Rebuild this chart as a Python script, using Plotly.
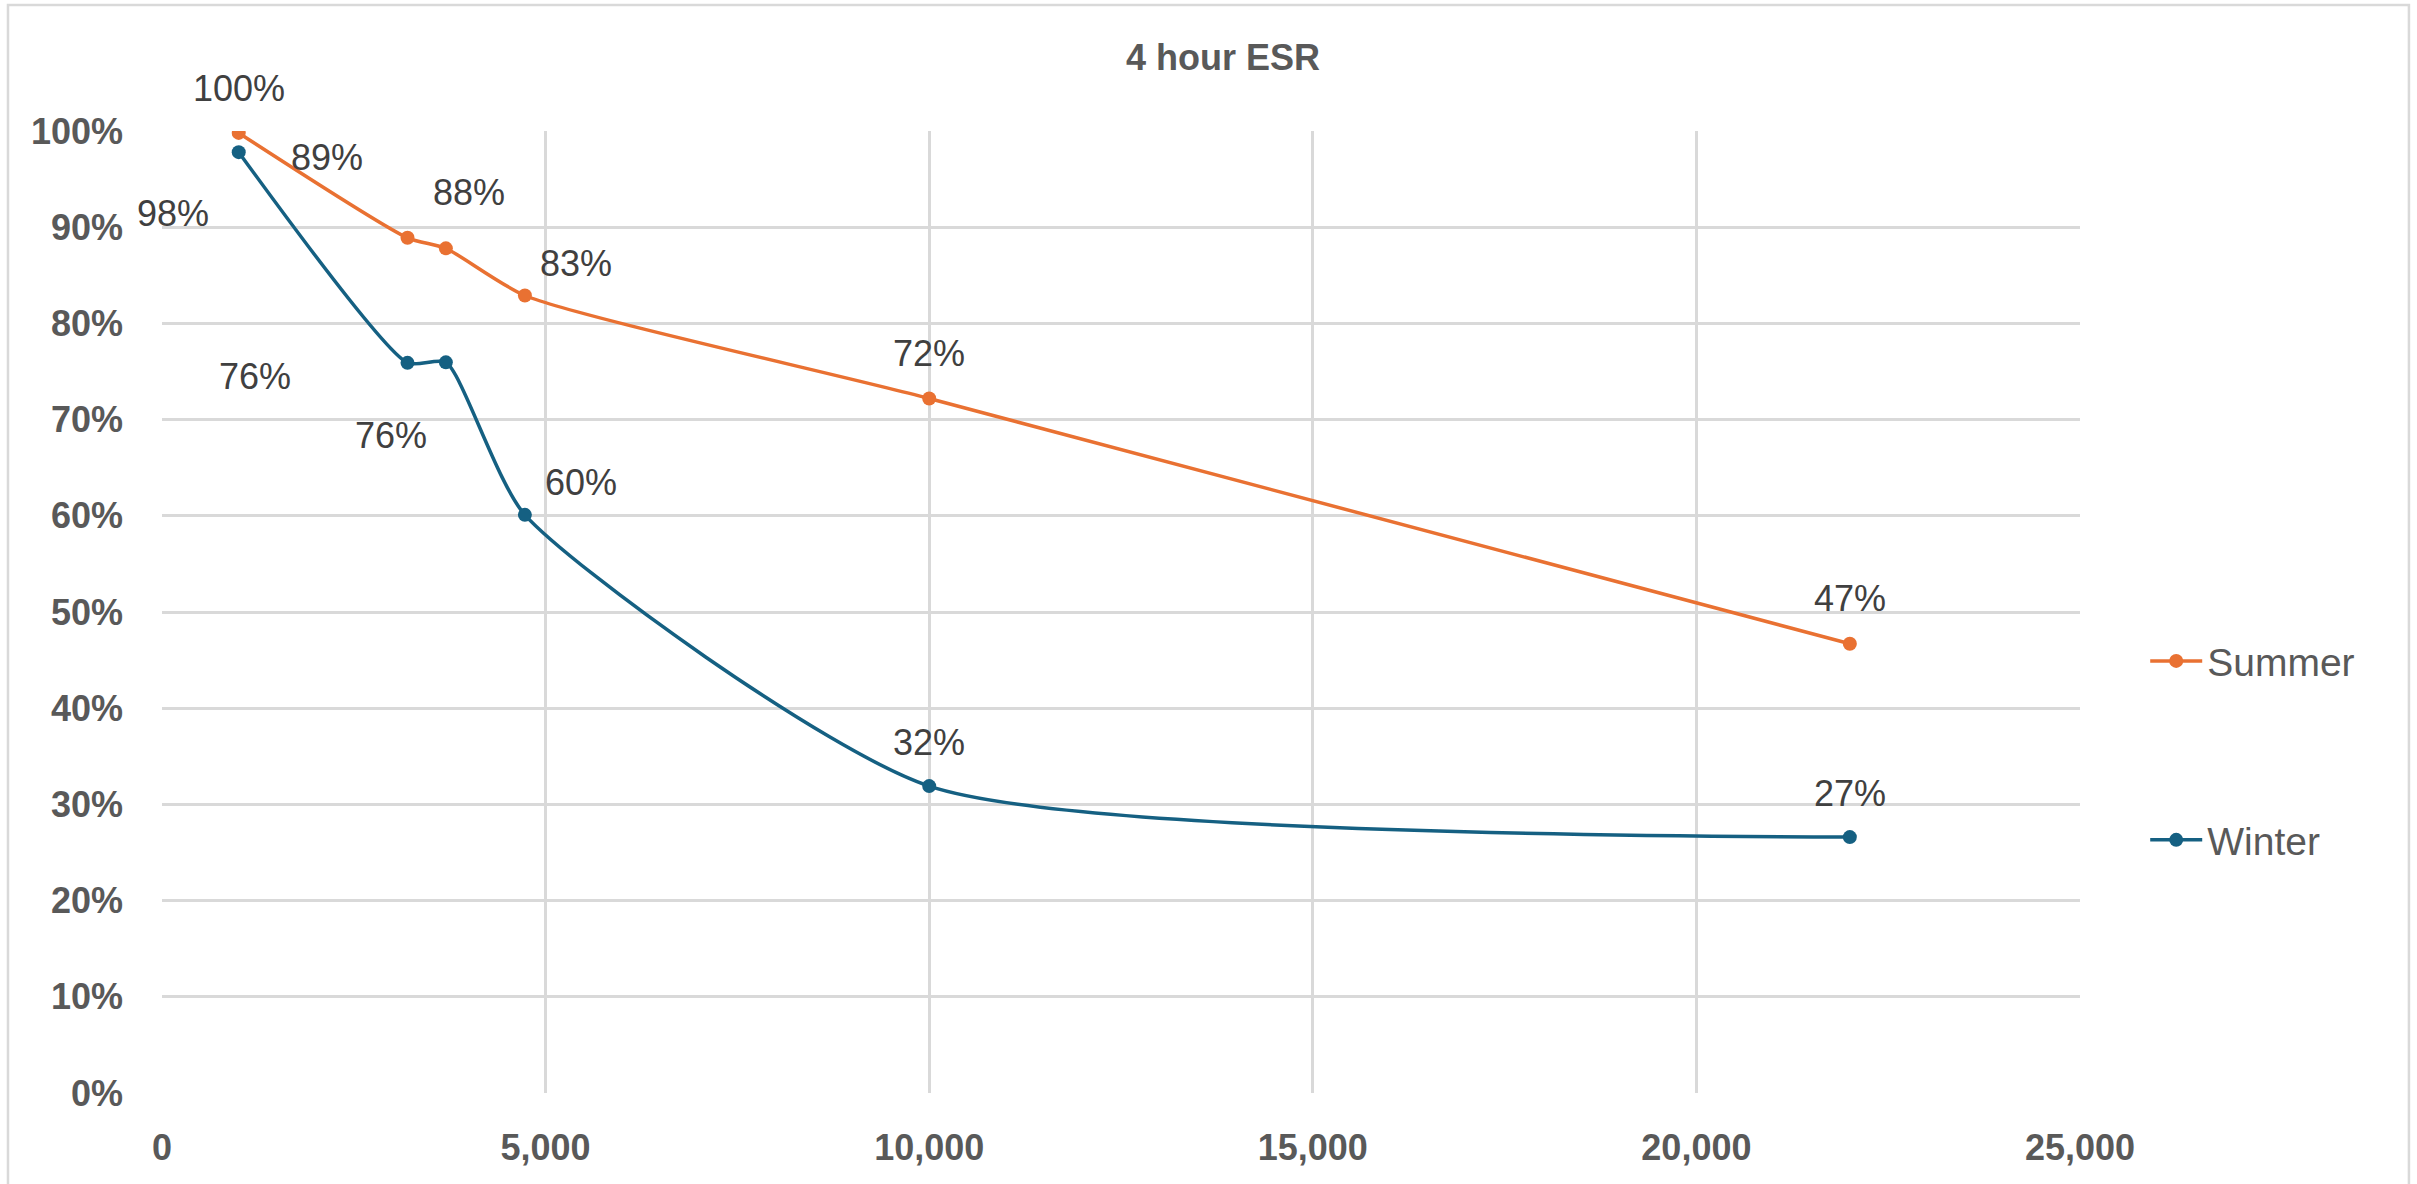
import plotly.graph_objects as go

# Capacity (MW) on the x axis and ESR fractions for each season
capacity_mw = [1000, 3200, 3700, 4730, 10000, 22000]
summer_esr = [0.998, 0.889, 0.878, 0.829, 0.722, 0.467]
winter_esr = [0.978, 0.759, 0.7595, 0.601, 0.319, 0.266]

x_ticks = [0, 5000, 10000, 15000, 20000, 25000]
y_ticks = [0, 0.1, 0.2, 0.3, 0.4, 0.5, 0.6, 0.7, 0.8, 0.9, 1.0]

# Pixel offsets of the value labels relative to their points (dx, dy up)
summer_label_shift = [(0, 44), (-81, 80), (23, 56), (51, 32), (0, 45), (0, 45)]
winter_label_shift = [(-66, -61), (-153, -14), (-55, -73), (56, 32), (0, 44), (0, 44)]

ORANGE = "#E97132"
BLUE = "#156082"
GRID = "#D9D9D9"
AXIS_TEXT = "#595959"
LABEL_TEXT = "#404040"
FONT = "Liberation Sans, Arial, sans-serif"

fig = go.Figure()

fig.add_trace(go.Scatter(
    x=capacity_mw, y=summer_esr, name="Summer", mode="lines+markers",
    line=dict(color=ORANGE, width=3.5, shape="spline", smoothing=0.6),
    marker=dict(color=ORANGE, size=14),
    legend="legend",
))
fig.add_trace(go.Scatter(
    x=capacity_mw, y=winter_esr, name="Winter", mode="lines+markers",
    line=dict(color=BLUE, width=3.5, shape="spline", smoothing=0.6),
    marker=dict(color=BLUE, size=14),
    legend="legend2",
))

# Value labels anchored to each point
for xs, ys, shifts in ((capacity_mw, summer_esr, summer_label_shift),
                       (capacity_mw, winter_esr, winter_label_shift)):
    for xv, yv, (dx, dy) in zip(xs, ys, shifts):
        fig.add_annotation(
            x=xv, y=yv, text=f"{yv:.0%}", showarrow=False,
            xshift=dx, yshift=dy,
            font=dict(family=FONT, size=36, color=LABEL_TEXT),
        )

# Light outer chart border
fig.add_shape(
    type="rect", xref="paper", yref="paper",
    x0=-0.0803, x1=1.1715, y0=-0.11, y1=1.131,
    line=dict(color=GRID, width=2.5), fillcolor="rgba(0,0,0,0)", layer="below",
)

legend_common = dict(
    xanchor="left", yanchor="middle",
    font=dict(family=FONT, size=39, color=AXIS_TEXT),
    bgcolor="rgba(0,0,0,0)", itemwidth=52,
)

fig.update_layout(
    width=2417, height=1184,
    margin=dict(l=162, r=337, t=131, b=91),
    paper_bgcolor="white", plot_bgcolor="white",
    showlegend=True,
    title=dict(
        text="<b>4 hour ESR</b>", xref="container", yref="container",
        x=0.506, y=1 - 57 / 1184, xanchor="center", yanchor="middle",
        font=dict(family=FONT, size=36, color=AXIS_TEXT),
    ),
    legend=dict(x=1.034, y=0.449, **legend_common),
    legend2=dict(x=1.034, y=0.263, **legend_common),
    xaxis=dict(
        range=[0, 25000], tickvals=x_ticks, tickformat=",",
        showgrid=True, gridcolor=GRID, gridwidth=2.5,
        zeroline=False, showline=False,
        ticks="", ticklabelstandoff=30,
        tickfont=dict(family=FONT, size=36, color=AXIS_TEXT, weight="bold"),
    ),
    yaxis=dict(
        range=[0, 1], tickvals=y_ticks, tickformat=".0%",
        showgrid=True, gridcolor=GRID, gridwidth=2.5,
        zeroline=False, showline=False,
        ticks="", ticklabelstandoff=38,
        tickfont=dict(family=FONT, size=36, color=AXIS_TEXT, weight="bold"),
    ),
)

fig.write_html("out.html")
